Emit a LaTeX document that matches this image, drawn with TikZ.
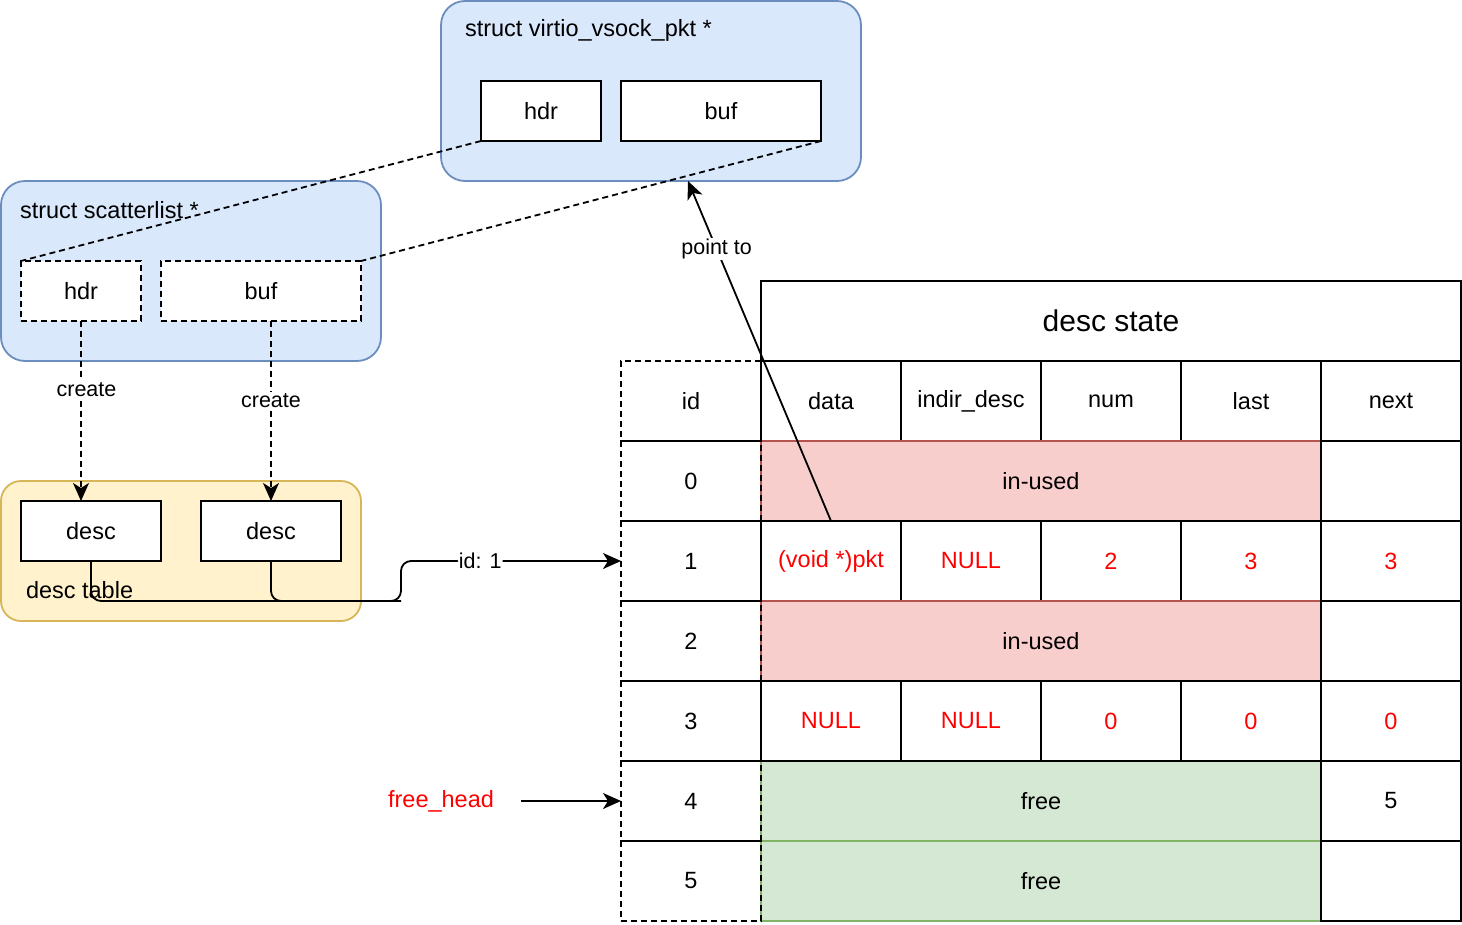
\documentclass[tikz,border=0pt]{standalone}
\usepackage{fontspec}
\setmainfont{Liberation Sans}
\usetikzlibrary{arrows.meta}
\definecolor{blueF}{HTML}{DAE8FC}
\definecolor{blueD}{HTML}{6C8EBF}
\definecolor{yelF}{HTML}{FFF2CC}
\definecolor{yelD}{HTML}{D6B656}
\definecolor{redF}{HTML}{F8CECC}
\definecolor{redD}{HTML}{B85450}
\definecolor{greenF}{HTML}{D5E8D4}
\definecolor{greenD}{HTML}{82B366}
\definecolor{txtred}{HTML}{FF0000}
\tikzset{
  base/.style={font=\fontsize{23.5}{28}\selectfont, inner sep=0pt, outer sep=0pt, anchor=north west},
  cellbox/.style={base, draw=black, line width=1.8pt, minimum width=140pt, minimum height=80pt},
  idcell/.style={cellbox, dash pattern=on 6pt off 4pt},
  usedcell/.style={cellbox, fill=redF, draw=redD, minimum width=560pt},
  freecell/.style={cellbox, fill=greenF, draw=greenD, minimum width=560pt},
  redtxt/.style={text=txtred},
  group/.style={base, line width=1.8pt, rounded corners=24pt},
  field/.style={base, draw=black, fill=white, line width=1.8pt, minimum height=60pt},
  dfield/.style={field, dash pattern=on 6pt off 4pt},
  lbl/.style={font=\fontsize{21.5}{26}\selectfont, inner sep=1pt, fill=white},
  arr/.style={line width=1.8pt, -{Stealth[length=18pt 0,width=16pt 0,inset=5pt 0]}},
  darr/.style={arr, dash pattern=on 6pt off 4pt},
  dline/.style={line width=1.8pt, dash pattern=on 6pt off 4pt},
}
\begin{document}
\begin{tikzpicture}[x=1pt,y=-1pt]
\useasboundingbox (0,0) rectangle (1462,924);

% struct virtio_vsock_pkt
\node[group, fill=blueF, draw=blueD, minimum width=420pt, minimum height=180pt] (pkt) at (441,1) {};
\node[base, anchor=west] (pkttitle) at (465,30) {struct virtio\_vsock\_pkt *};
\node[field, minimum width=120pt] (phdr) at (481,81) {hdr};
\node[field, minimum width=200pt] (pbuf) at (621,81) {buf};

% struct scatterlist
\node[group, fill=blueF, draw=blueD, minimum width=380pt, minimum height=180pt] (sg) at (1,181) {};
\node[base, anchor=west] (sgtitle) at (20,210) {struct scatterlist *};
\node[dfield, minimum width=120pt] (shdr) at (21,261) {hdr};
\node[dfield, minimum width=200pt] (sbuf) at (161,261) {buf};

% desc table
\node[group, rounded corners=20pt, fill=yelF, draw=yelD, minimum width=360pt, minimum height=140pt] (dt) at (1,481) {};
\node[field, minimum width=140pt] (desc1) at (21,501) {desc};
\node[field, minimum width=140pt] (desc2) at (201,501) {desc};

% table
\node[cellbox, minimum width=700pt, font=\fontsize{30}{36}\selectfont] (state) at (761,281) {desc state};
\node[cellbox] (hdata) at (761,361) {data};
\node[cellbox] (hindir) at (901,361) {indir\_desc};
\node[cellbox] (hnum) at (1041,361) {num};
\node[cellbox] (hlast) at (1181,361) {last};
\node[cellbox] (hnext) at (1321,361) {next};

\node[usedcell] (u0) at (761,441) {in-used};
\node[cellbox] (n0) at (1321,441) {};

\node[cellbox, redtxt] (d1a) at (761,521) {(void *)pkt};
\node[cellbox, redtxt] (d1b) at (901,521) {NULL};
\node[cellbox, redtxt] (d1c) at (1041,521) {2};
\node[cellbox, redtxt] (d1d) at (1181,521) {3};
\node[cellbox, redtxt] (d1e) at (1321,521) {3};

\node[usedcell] (u2) at (761,601) {in-used};
\node[cellbox] (n2) at (1321,601) {};

\node[freecell] (f4) at (761,761) {free};
\node[cellbox] (n4) at (1321,761) {5};

\node[cellbox, redtxt] (d3a) at (761,681) {NULL};
\node[cellbox, redtxt] (d3b) at (901,681) {NULL};
\node[cellbox, redtxt] (d3c) at (1041,681) {0};
\node[cellbox, redtxt] (d3d) at (1181,681) {0};
\node[cellbox, redtxt] (d3e) at (1321,681) {0};

\node[freecell] (f5) at (761,841) {free};
\node[cellbox] (n5) at (1321,841) {};

% id column
\node[idcell] (idh) at (621,361) {id};
\node[idcell] (id0) at (621,441) {0};
\node[idcell] (id1) at (621,521) {1};
\node[idcell] (id2) at (621,601) {2};
\node[idcell] (id3) at (621,681) {3};
\node[idcell] (id4) at (621,761) {4};
\node[idcell] (id5) at (621,841) {5};

% free head
\node[base, anchor=center, redtxt, minimum width=160pt] (fh) at (441,801) {free\_head};
\draw[arr] (fh.east) -- (id4.west);

% dashed mapping lines
\draw[dline] (phdr.south west) -- (shdr.north west);
\draw[dline] (pbuf.south east) -- (sbuf.north east);

% create arrows
\coordinate (c1) at (81,501);
\coordinate (c2) at (271,501);
\draw[darr] (shdr.south -| c1) -- (c1) node[lbl, pos=0.38, xshift=5.5pt] {create};
\draw[darr] (sbuf.south -| c2) -- (c2) node[lbl, pos=0.44] {create};

% desc table label
\node[base, anchor=west] (dtl) at (26,590) {desc table};

% connectors desc -> id 1
\coordinate (j) at (401,601);
\draw[line width=1.8pt, rounded corners=10pt] (desc2.south) |- (j);
\draw[arr, rounded corners=10pt] (desc1.south) |- (j) |- (id1.west) node[lbl, pos=0.68] {id: 1};

% point to
\coordinate (pt) at (688,181);
\draw[arr] (d1a.north) -- (pt) node[lbl, pos=0.8] {point to};
\end{tikzpicture}
\end{document}
